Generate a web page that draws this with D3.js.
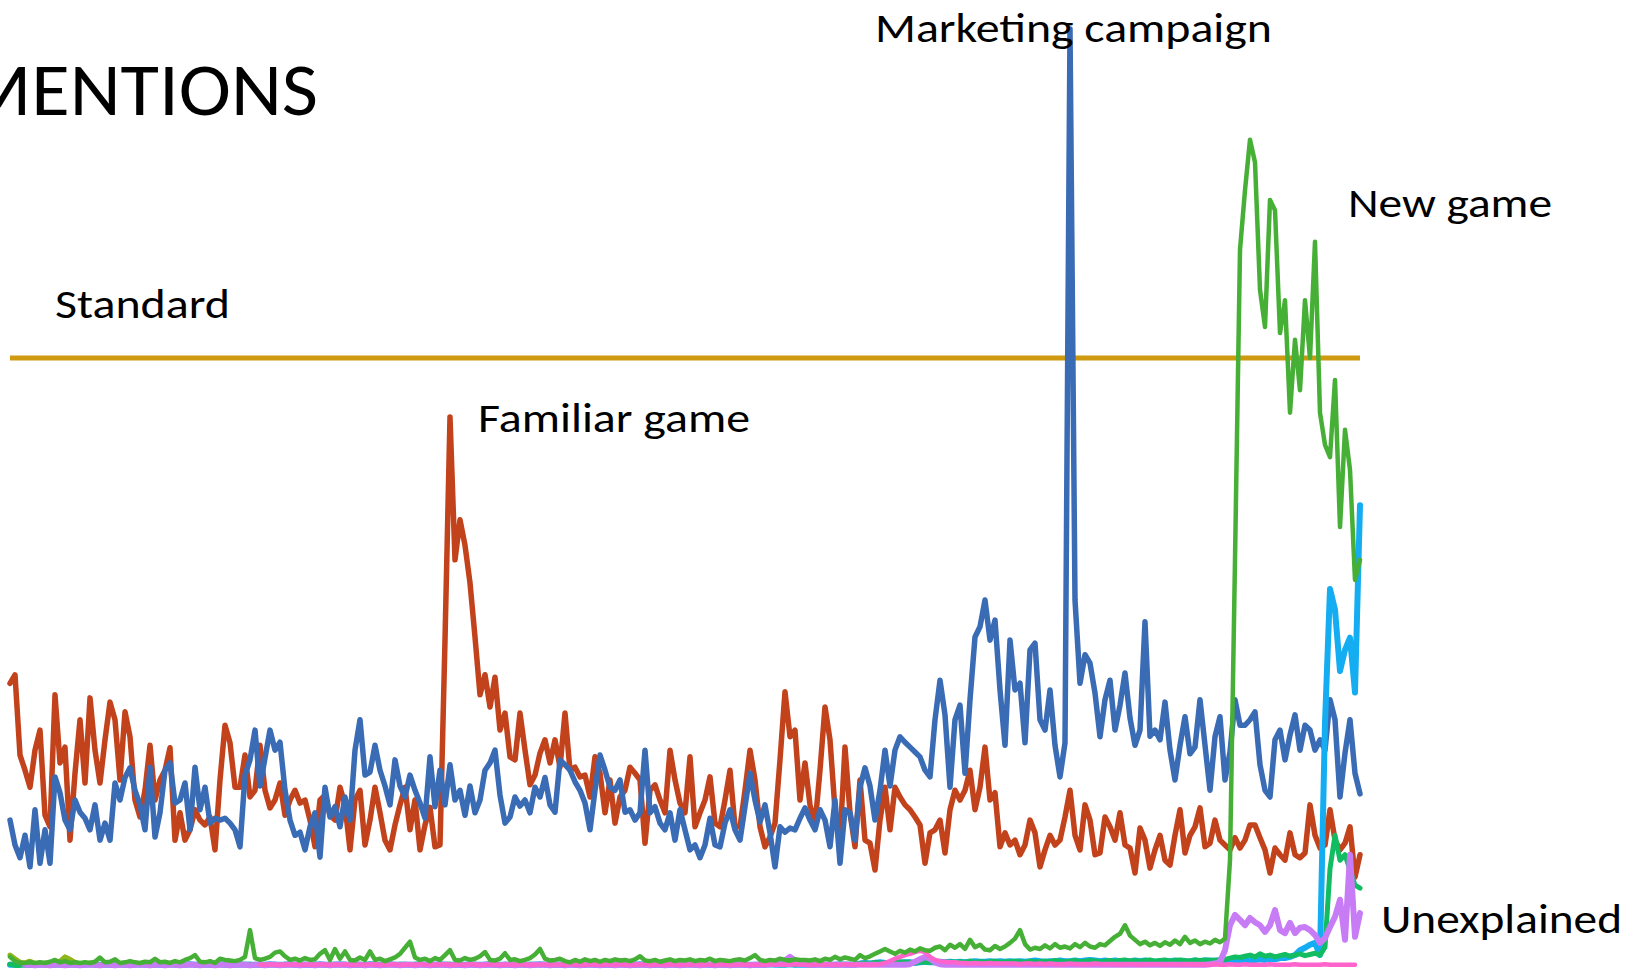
<!DOCTYPE html>
<html><head><meta charset="utf-8">
<script src="https://cdn.jsdelivr.net/npm/d3@7"></script>
<style>
body{margin:0;background:#fff;}
svg{display:block;}
text{font-family:Carlito, Calibri, Lato, sans-serif; fill:#000;}
</style>
</head><body>
<svg id="chart" width="1633" height="974"></svg>
<script>
// ---------- DATA (mentions per day, Standard = 100) ----------
const standardLevel = 100;

const familiarGame = [
46.5,47.9,34.7,32.2,29.4,35.5,38.8,24.8,22.9,44.6,
33.4,36.0,20.7,31.7,40.5,30.1,44.1,35.5,30.1,37.2,
43.4,40.5,30.6,41.8,37.7,27.3,24.5,28.9,36.3,27.3,
30.6,32.2,35.9,20.7,25.2,20.7,22.4,25.7,24.0,23.2,
24.5,19.1,30.6,39.6,36.7,29.4,29.4,34.7,27.8,28.9,
36.3,28.9,26.0,27.3,30.1,24.8,27.3,28.9,26.8,27.3,
24.0,19.6,27.3,28.1,24.8,24.0,29.4,26.5,19.1,27.3,
28.9,19.9,24.0,29.4,25.2,20.7,19.1,23.2,26.5,29.4,
22.4,27.3,19.1,23.2,26.1,19.6,19.9,53.6,90.3,66.8,
73.4,69.2,63.0,54.1,44.6,47.9,42.6,47.5,38.8,41.6,
34.4,33.9,41.6,35.5,29.8,31.4,35.0,37.2,33.4,37.2,
32.7,41.6,32.2,32.7,31.1,31.4,27.8,34.4,31.7,25.2,
30.6,23.5,27.8,28.9,32.7,31.7,30.6,20.2,28.9,29.8,
27.3,25.2,35.5,30.6,26.8,25.2,34.4,22.9,25.2,27.3,
31.1,23.5,22.9,27.3,32.2,22.9,22.9,28.9,35.5,30.6,
22.9,19.6,21.2,23.5,33.9,45.1,37.7,38.8,27.3,33.4,
26.5,23.2,32.2,42.6,37.2,25.7,20.7,36.0,25.2,19.6,
30.6,20.7,20.2,15.8,24.0,29.4,22.4,29.4,27.8,26.5,
25.7,24.5,23.2,16.9,21.9,22.4,24.0,18.6,25.7,28.9,
27.3,28.9,32.2,25.7,29.4,36.0,27.3,28.5,19.6,21.9,
19.9,20.7,18.3,19.9,24.0,21.9,16.3,19.1,21.5,19.9,
20.7,24.5,28.9,21.5,19.1,26.5,24.0,18.3,18.6,24.5,
22.9,20.7,25.2,19.9,19.4,15.3,22.7,20.7,16.1,19.1,
21.5,17.4,16.6,21.5,25.7,18.6,21.5,22.9,26.0,19.6,
20.2,24.0,20.7,19.9,19.1,21.1,19.4,20.7,23.2,23.2,
21.1,19.1,15.3,19.4,18.3,17.4,21.9,18.3,17.8,18.6,
26.5,21.5,19.4,19.9,25.7,20.7,19.1,20.2,22.9,14.6,
18.3];

const marketing = [
24.0,19.9,17.8,21.5,16.3,25.7,16.9,22.4,16.9,31.1,
28.5,24.0,22.4,27.3,25.3,24.3,22.4,26.5,20.7,23.5,
20.7,30.1,27.3,31.0,32.6,28.9,26.5,22.4,32.7,21.2,
25.2,32.2,33.4,26.8,27.3,30.1,22.4,32.7,25.7,29.4,
23.5,24.3,24.0,24.3,23.5,22.4,19.6,31.4,33.9,38.8,
29.6,34.2,38.8,35.5,36.8,28.9,24.0,21.5,22.0,19.1,
22.9,25.2,17.9,29.4,24.5,26.2,22.9,27.8,24.0,35.5,
40.5,31.4,31.9,36.3,32.2,29.6,26.5,33.9,29.6,27.8,
31.4,28.9,26.8,24.3,34.4,26.2,32.2,26.5,33.1,27.3,
28.9,24.8,29.6,25.2,27.3,32.2,33.4,35.5,28.1,23.5,
24.5,27.8,26.3,27.3,25.2,29.4,27.8,31.0,26.5,25.3,
33.9,33.1,32.2,30.3,28.9,26.8,22.4,28.9,34.7,32.2,
29.4,28.9,30.6,25.3,25.7,24.0,25.2,35.5,25.2,26.2,
23.5,22.4,25.2,20.7,25.7,22.4,19.1,19.9,17.8,19.9,
24.3,19.9,19.6,23.5,25.7,22.4,20.7,26.2,31.7,27.3,
23.7,26.5,21.9,16.3,22.9,22.0,22.7,22.4,24.3,26.0,
24.0,22.4,25.7,24.0,19.6,27.3,16.9,25.7,25.2,20.7,
29.4,32.6,29.6,24.0,28.9,35.5,29.6,35.5,37.7,36.8,
36.0,35.2,34.4,32.2,31.1,40.5,47.0,41.3,29.4,40.5,
42.9,31.7,43.8,54.1,55.8,60.2,53.6,56.9,45.4,36.3,
53.6,45.4,46.5,36.7,52.0,53.1,40.5,38.8,45.4,36.3,
31.1,36.7,154.1,60.2,46.5,51.2,49.8,44.9,37.7,43.8,
47.0,38.8,42.9,48.2,40.8,36.3,38.8,56.6,37.8,38.8,
37.2,43.4,35.5,30.6,36.3,41.0,34.9,36.0,43.8,36.3,
28.9,37.7,41.0,30.6,35.2,43.8,39.6,39.6,40.5,41.8,
33.1,28.9,27.8,37.2,38.8,33.9,38.0,41.3,35.5,39.6,
38.8,35.5,37.2,35.5,43.8,40.5,27.8,35.0,40.5,31.7,
28.3];

const newGame = [
1.5,0.8,0.5,0.5,0.6,0.5,0.6,0.5,0.7,1.0,
0.6,0.8,0.5,0.6,0.5,0.6,0.5,0.7,1.4,0.6,
0.7,1.1,0.5,0.6,0.8,0.6,0.5,0.7,0.6,1.2,
0.6,0.7,0.5,0.8,0.6,1.0,1.3,1.8,0.7,0.6,
0.8,0.5,1.2,1.0,0.9,0.8,1.0,1.5,5.9,1.3,
1.0,1.2,1.5,2.2,2.4,1.6,1.0,1.2,0.9,1.3,
1.0,1.1,2.0,2.6,1.0,2.8,1.2,2.4,1.0,0.9,
1.4,1.0,2.4,1.0,1.2,0.8,1.1,1.4,2.0,3.0,
4.0,1.4,1.0,1.2,0.8,1.3,1.0,1.8,2.6,1.0,
0.9,1.3,1.0,1.2,1.6,2.3,1.0,0.9,1.2,2.1,
1.0,1.1,0.8,1.0,1.3,1.9,2.8,1.2,0.9,1.0,
1.2,0.8,0.6,1.0,0.7,1.1,0.8,1.0,0.7,1.0,
0.8,1.1,0.9,1.0,0.8,1.1,1.6,0.9,0.8,1.0,
0.7,0.9,1.1,0.8,1.0,0.9,1.1,0.8,1.0,0.9,
1.2,0.8,1.0,0.9,0.8,1.0,1.1,0.9,1.3,1.8,
1.0,0.8,1.0,0.9,1.2,1.0,0.9,1.1,1.0,1.0,
0.9,1.1,0.8,1.2,1.0,1.5,1.1,1.4,1.2,1.0,
1.8,1.3,1.6,2.0,2.4,2.8,2.4,2.0,2.5,2.2,
2.7,2.4,2.9,2.6,2.5,3.0,3.2,2.6,3.5,3.0,
3.6,2.8,4.3,3.1,3.5,2.7,2.6,3.3,2.8,3.2,
3.8,4.5,5.9,3.6,2.7,3.0,2.8,3.4,2.9,3.6,
3.0,3.2,2.9,3.6,3.1,3.8,3.2,3.0,3.6,3.4,
4.1,4.8,5.3,6.7,5.0,4.3,3.6,4.0,3.4,3.8,
3.3,3.9,3.5,4.2,3.6,4.8,3.8,4.2,3.6,4.0,
3.7,4.3,3.9,4.5,17.4,66.8,117.8,127.6,135.9,132.2,
111.2,105.1,126.0,124.3,104.1,109.5,91.0,103.0,94.7,109.5,
100.0,119.1,91.0,85.7,83.7,96.4,72.2,88.2,81.6,63.5,
66.8];

const teal = [
0.3,0.1,0.1,0.2,0.2,0.3,0.2,0.2,0.3,0.2,
0.3,0.2,0.2,0.3,0.2,0.3,0.3,0.2,0.2,0.3,
0.2,0.3,0.2,0.2,0.3,0.3,0.2,0.3,0.2,0.2,
0.3,0.2,0.3,0.3,0.2,0.2,0.3,0.2,0.3,0.3,
0.2,0.3,0.3,0.2,0.3,0.2,0.2,0.3,0.3,0.2,
0.3,0.2,0.2,0.3,0.2,0.3,0.3,0.2,0.2,0.3,
0.2,0.3,0.2,0.2,0.3,0.3,0.2,0.3,0.2,0.2,
0.3,0.2,0.3,0.3,0.2,0.2,0.3,0.2,0.3,0.3,
0.2,0.3,0.3,0.2,0.3,0.2,0.2,0.3,0.3,0.2,
0.3,0.2,0.2,0.3,0.2,0.3,0.3,0.2,0.2,0.3,
0.2,0.3,0.2,0.2,0.3,0.3,0.2,0.3,0.2,0.2,
0.3,0.2,0.3,0.3,0.2,0.2,0.3,0.2,0.3,0.3,
0.2,0.3,0.3,0.2,0.3,0.2,0.2,0.3,0.3,0.2,
0.3,0.2,0.2,0.3,0.2,0.3,0.3,0.2,0.2,0.3,
0.2,0.3,0.2,0.2,0.3,0.3,0.2,0.3,0.2,0.2,
0.3,0.2,0.3,0.3,0.2,0.2,0.3,0.2,0.3,0.3,
0.2,0.3,0.3,0.2,0.3,0.2,0.2,0.3,0.3,0.2,
0.4,0.5,0.4,0.6,0.5,0.5,0.6,0.5,0.7,0.6,
0.6,0.5,0.7,0.6,0.6,0.7,0.6,0.5,0.7,0.6,
0.7,0.6,0.8,0.6,0.7,0.6,0.7,0.8,0.6,0.7,
0.7,0.8,0.7,0.6,0.8,0.7,0.7,0.8,0.7,0.9,
0.8,0.7,0.8,0.9,0.7,0.8,0.9,0.8,0.7,0.8,
0.9,0.8,0.9,1.0,0.8,0.9,0.8,0.9,1.0,0.8,
0.9,1.0,0.8,0.9,1.0,0.9,0.8,1.0,0.9,1.0,
0.9,1.0,0.9,1.1,1.3,1.5,1.4,1.6,1.8,1.5,
2.0,1.6,1.8,1.5,1.7,1.9,1.6,1.8,2.0,1.7,
1.9,2.1,1.8,3.1,16.0,21.5,17.4,18.3,15.8,13.3,
12.8];

const cyan = [
0.2,0.2,0.3,0.2,0.2,0.2,0.3,0.2,0.2,0.2,
0.2,0.2,0.3,0.2,0.2,0.2,0.3,0.2,0.2,0.2,
0.2,0.2,0.3,0.2,0.2,0.2,0.3,0.2,0.2,0.2,
0.2,0.2,0.3,0.2,0.2,0.2,0.3,0.2,0.2,0.2,
0.2,0.2,0.3,0.2,0.2,0.2,0.3,0.2,0.2,0.2,
0.2,0.2,0.3,0.2,0.2,0.2,0.3,0.2,0.2,0.2,
0.2,0.2,0.3,0.2,0.2,0.2,0.3,0.2,0.2,0.2,
0.2,0.2,0.3,0.2,0.2,0.2,0.3,0.2,0.2,0.2,
0.2,0.2,0.3,0.2,0.2,0.2,0.3,0.2,0.2,0.2,
0.2,0.2,0.3,0.2,0.2,0.2,0.3,0.2,0.2,0.2,
0.2,0.2,0.3,0.2,0.2,0.2,0.3,0.2,0.2,0.2,
0.2,0.2,0.3,0.2,0.2,0.2,0.3,0.2,0.2,0.2,
0.2,0.2,0.3,0.2,0.2,0.2,0.3,0.2,0.2,0.2,
0.2,0.2,0.3,0.2,0.2,0.2,0.3,0.2,0.2,0.2,
0.2,0.2,0.3,0.2,0.2,0.2,0.3,0.2,0.2,0.2,
0.2,0.2,0.3,0.2,0.2,0.2,0.3,0.2,0.2,0.2,
0.2,0.2,0.3,0.2,0.2,0.2,0.3,0.2,0.2,0.2,
0.4,0.5,0.4,0.5,0.6,0.5,0.5,0.6,0.5,0.6,
0.6,0.5,0.6,0.7,0.6,0.6,0.7,0.6,0.7,0.6,
0.7,0.6,0.7,0.8,0.7,0.7,0.8,0.7,0.8,0.7,
0.8,0.7,0.8,0.7,0.8,0.9,0.8,0.7,0.8,0.8,
0.9,0.8,0.8,0.9,0.8,0.9,1.0,0.9,0.8,0.9,
0.8,0.9,0.8,0.7,0.8,0.9,0.8,0.9,0.8,0.7,
0.8,0.7,0.8,0.9,0.8,0.7,0.8,0.9,0.8,0.9,
0.9,0.8,1.0,0.9,0.7,0.8,0.9,1.0,0.9,1.0,
1.1,1.0,1.2,1.1,1.3,1.3,1.5,1.8,2.6,3.0,
3.5,3.8,1.8,40.0,62.0,58.6,48.5,52.0,54.0,45.0,
75.8];

// Unexplained series starts on day 3
const unexplainedStart = 3;
const unexplained = [
0.2,0.2,0.1,0.2,0.2,0.1,0.2,
0.2,0.1,0.2,0.2,0.1,0.2,0.2,0.2,0.1,0.2,
0.2,0.1,0.2,0.2,0.1,0.2,0.2,0.2,0.1,0.2,
0.2,0.1,0.2,0.2,0.1,0.2,0.2,0.2,0.1,0.2,
0.2,0.1,0.2,0.2,0.1,0.2,0.2,0.2,0.1,0.2,
0.2,0.1,0.2,0.2,0.1,0.2,0.2,0.2,0.1,0.2,
0.2,0.1,0.2,0.2,0.1,0.2,0.2,0.2,0.1,0.2,
0.2,0.1,0.2,0.2,0.1,0.2,0.2,0.2,0.1,0.2,
0.2,0.1,0.2,0.2,0.1,0.2,0.2,0.2,0.1,0.2,
0.2,0.1,0.2,0.2,0.1,0.2,0.2,0.2,0.1,0.2,
0.2,0.1,0.2,0.2,0.1,0.2,0.2,0.2,0.1,0.2,
0.2,0.1,0.2,0.2,0.1,0.2,0.2,0.2,0.1,0.2,
0.2,0.1,0.2,0.2,0.1,0.2,0.2,0.2,0.1,0.2,
0.2,0.1,0.2,0.2,0.1,0.2,0.2,0.2,0.1,0.2,
0.2,0.1,0.2,0.2,0.1,0.2,0.2,0.2,0.1,0.2,
0.2,0.2,0.3,0.4,0.6,0.9,1.5,0.9,0.5,0.3,
0.2,0.2,0.2,0.2,0.2,0.2,0.2,0.2,0.2,0.2,
0.2,0.2,0.2,0.2,0.2,0.2,0.2,0.2,0.2,0.2,
0.3,0.7,1.1,1.5,1.2,0.6,0.3,0.2,0.2,0.2,
0.2,0.2,0.2,0.2,0.2,0.2,0.2,0.2,0.2,0.2,
0.2,0.2,0.2,0.2,0.2,0.2,0.2,0.2,0.2,0.2,
0.2,0.2,0.2,0.2,0.2,0.2,0.2,0.2,0.2,0.2,
0.2,0.2,0.2,0.2,0.2,0.2,0.2,0.2,0.2,0.2,
0.2,0.2,0.2,0.2,0.2,0.2,0.2,0.2,0.2,0.2,
0.3,0.4,0.7,2.6,6.7,8.4,7.6,6.7,7.9,7.2,
6.7,5.6,6.7,9.2,5.9,5.4,7.1,5.4,6.3,6.4,
5.9,5.1,3.8,4.6,6.4,8.1,10.9,4.3,18.3,4.8,
8.7];

// Pink series starts on day 50
const pinkStart = 50;
const pink = [
0.2,0.2,0.3,0.2,0.2,0.2,0.2,0.3,0.2,0.2,
0.2,0.2,0.3,0.2,0.2,0.2,0.2,0.3,0.2,0.2,
0.2,0.2,0.3,0.2,0.2,0.2,0.2,0.3,0.2,0.2,
0.2,0.2,0.3,0.2,0.2,0.2,0.2,0.3,0.2,0.2,
0.2,0.2,0.3,0.2,0.2,0.2,0.2,0.3,0.2,0.2,
0.2,0.2,0.3,0.2,0.2,0.2,0.2,0.3,0.2,0.2,
0.2,0.2,0.3,0.2,0.2,0.2,0.2,0.3,0.2,0.2,
0.2,0.2,0.3,0.2,0.2,0.2,0.2,0.3,0.2,0.2,
0.2,0.2,0.3,0.2,0.2,0.2,0.2,0.3,0.2,0.2,
0.2,0.2,0.3,0.2,0.2,0.2,0.2,0.3,0.2,0.2,
0.2,0.2,0.3,0.2,0.2,0.2,0.2,0.3,0.2,0.2,
0.2,0.2,0.3,0.2,0.2,0.2,0.2,0.3,0.2,0.2,
0.2,0.2,0.2,0.2,0.3,0.5,0.8,1.2,1.5,1.8,
2.0,2.3,2.5,2.3,1.5,1.0,0.8,0.7,0.6,0.6,
0.5,0.5,0.4,0.5,0.4,0.4,0.5,0.4,0.4,0.4,
0.4,0.4,0.3,0.4,0.4,0.3,0.4,0.3,0.4,0.3,
0.3,0.3,0.4,0.3,0.3,0.3,0.3,0.4,0.3,0.3,
0.3,0.3,0.2,0.3,0.3,0.3,0.2,0.3,0.3,0.3,
0.3,0.2,0.3,0.3,0.2,0.3,0.3,0.2,0.3,0.2,
0.2,0.3,0.2,0.2,0.3,0.2,0.2,0.3,0.2,0.2,
0.2,0.2,0.3,0.2,0.2,0.2,0.2,0.3,0.2,0.2,
0.2,0.2,0.2,0.3,0.2,0.2,0.2,0.2,0.2,0.2];

const olive = [1.8,1.2,0.6,0.5,0.8,0.4,0.3,0.5,0.4,0.6,0.8,1.5,1.1,0.6,0.4,0.3,0.5,0.3,0.2];

const annotations = ["MENTIONS","Marketing campaign","New game","Standard","Familiar game","Unexplained"];

// ---------- DRAW ----------
const W = 1633, H = 974;
const nDays = familiarGame.length;
const svg = d3.select("#chart");
svg.append("rect").attr("width", W).attr("height", H).attr("fill", "#fff");

const x = d3.scaleLinear().domain([0, nDays - 1]).range([10, 1360]);
const y = d3.scaleLinear().domain([0, 100]).range([966, 358]);

const toPoints = (vals, start = 0) => vals.map((v, i) => ({day: start + i, v}));
const line = d3.line()
  .defined(d => d.v != null)
  .x(d => x(d.day))
  .y(d => y(d.v));

// Standard level
const stdPts = [{day: 0, v: standardLevel}, {day: nDays - 1, v: standardLevel}];
svg.append("path").datum(stdPts)
  .attr("d", d3.line().x(d => x(d.day)).y(d => y(d.v)))
  .attr("fill", "none").attr("stroke", "#CF9A10").attr("stroke-width", 5);

const series = [
  {pts: toPoints(familiarGame), color: "#C2421C", w: 5.5},
  {pts: toPoints(marketing), color: "#3A6BB5", w: 5.5},
  {pts: toPoints(cyan), color: "#14ADF1", w: 6},
  {pts: toPoints(olive), color: "#8FB61A", w: 5},
  {pts: toPoints(teal), color: "#12BD62", w: 5},
  {pts: toPoints(unexplained, unexplainedStart), color: "#C77CF6", w: 6},
  {pts: toPoints(pink, pinkStart), color: "#FF63CC", w: 4.5},
  {pts: toPoints(newGame), color: "#46AF35", w: 4.5}
];

svg.append("g").selectAll("path").data(series).join("path")
  .attr("d", d => line(d.pts))
  .attr("fill", "none")
  .attr("stroke", d => d.color)
  .attr("stroke-width", d => d.w)
  .attr("stroke-linejoin", "round")
  .attr("stroke-linecap", "round");

// Annotations (layout)
const annLayout = [
  {x: -36, y: 115, size: 73, len: 354},
  {x: 875, y: 42, size: 40, len: 397},
  {x: 1348, y: 217, size: 40, len: 204},
  {x: 55, y: 318, size: 40, len: 175},
  {x: 478, y: 432, size: 40, len: 272},
  {x: 1381, y: 933, size: 40, len: 241}
];
svg.append("g").selectAll("text").data(annotations).join("text")
  .attr("x", (d, i) => annLayout[i].x)
  .attr("y", (d, i) => annLayout[i].y)
  .attr("font-size", (d, i) => annLayout[i].size)
  .attr("textLength", (d, i) => annLayout[i].len)
  .attr("lengthAdjust", "spacingAndGlyphs")
  .text(d => d);
</script>
</body></html>
